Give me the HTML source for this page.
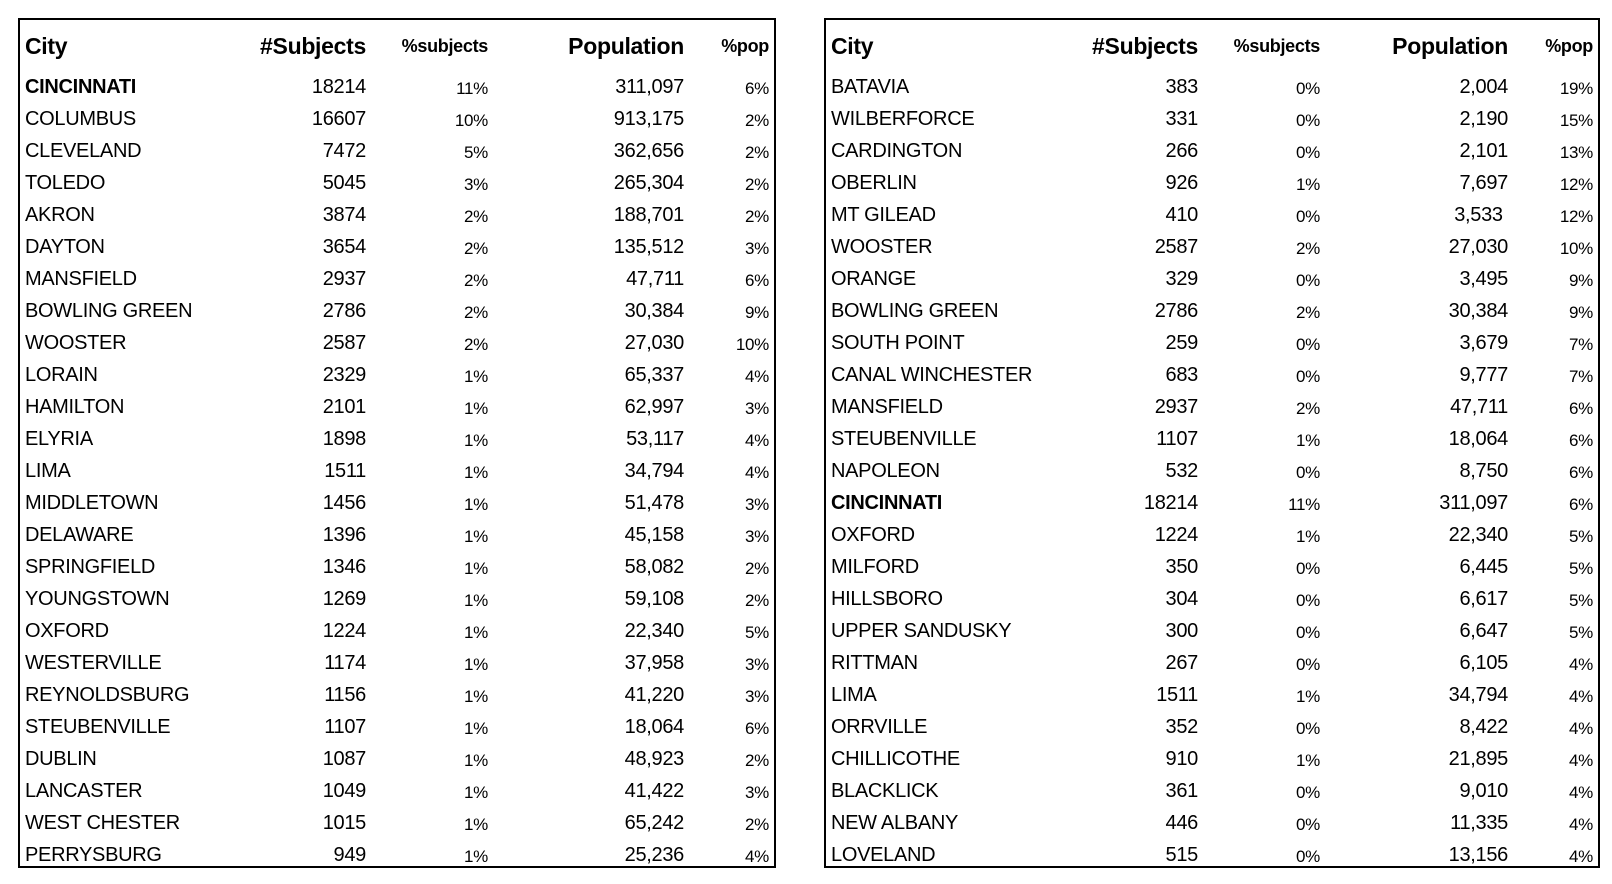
<!DOCTYPE html>
<html><head><meta charset="utf-8"><style>
body{margin:0;width:1612px;height:884px;background:#fff;position:relative;overflow:hidden;font-family:"Liberation Sans Narrow","Liberation Sans",sans-serif;color:#000}
.box{position:absolute;top:18px;height:850px;border:2px solid #000;box-sizing:border-box}
table{position:absolute;top:21.5px;border-collapse:collapse;table-layout:fixed}
td,th{padding:0;white-space:nowrap;font-size:20px;font-weight:normal;letter-spacing:-0.3px}
tr{height:32px}
tr.h{height:50px}
th{font-weight:bold;font-size:23px}
th.s{font-size:18px}
td:first-child,th:first-child{text-align:left}
td,th{text-align:right}
td.p{font-size:17px;padding-top:3px}
.b{font-weight:bold}
</style></head><body>
<div class="box" style="left:18px;width:758px"></div>
<div class="box" style="left:824px;width:776px"></div>
<table style="left:25px;width:744px">
<colgroup><col style="width:200px"><col style="width:141px"><col style="width:122px"><col style="width:196px"><col style="width:85px"></colgroup>
<tr class="h"><th>City</th><th>#Subjects</th><th class="s">%subjects</th><th>Population</th><th class="s">%pop</th></tr>
<tr><td class="b">CINCINNATI</td><td>18214</td><td class="p">11%</td><td>311,097</td><td class="p">6%</td></tr>
<tr><td>COLUMBUS</td><td>16607</td><td class="p">10%</td><td>913,175</td><td class="p">2%</td></tr>
<tr><td>CLEVELAND</td><td>7472</td><td class="p">5%</td><td>362,656</td><td class="p">2%</td></tr>
<tr><td>TOLEDO</td><td>5045</td><td class="p">3%</td><td>265,304</td><td class="p">2%</td></tr>
<tr><td>AKRON</td><td>3874</td><td class="p">2%</td><td>188,701</td><td class="p">2%</td></tr>
<tr><td>DAYTON</td><td>3654</td><td class="p">2%</td><td>135,512</td><td class="p">3%</td></tr>
<tr><td>MANSFIELD</td><td>2937</td><td class="p">2%</td><td>47,711</td><td class="p">6%</td></tr>
<tr><td>BOWLING GREEN</td><td>2786</td><td class="p">2%</td><td>30,384</td><td class="p">9%</td></tr>
<tr><td>WOOSTER</td><td>2587</td><td class="p">2%</td><td>27,030</td><td class="p">10%</td></tr>
<tr><td>LORAIN</td><td>2329</td><td class="p">1%</td><td>65,337</td><td class="p">4%</td></tr>
<tr><td>HAMILTON</td><td>2101</td><td class="p">1%</td><td>62,997</td><td class="p">3%</td></tr>
<tr><td>ELYRIA</td><td>1898</td><td class="p">1%</td><td>53,117</td><td class="p">4%</td></tr>
<tr><td>LIMA</td><td>1511</td><td class="p">1%</td><td>34,794</td><td class="p">4%</td></tr>
<tr><td>MIDDLETOWN</td><td>1456</td><td class="p">1%</td><td>51,478</td><td class="p">3%</td></tr>
<tr><td>DELAWARE</td><td>1396</td><td class="p">1%</td><td>45,158</td><td class="p">3%</td></tr>
<tr><td>SPRINGFIELD</td><td>1346</td><td class="p">1%</td><td>58,082</td><td class="p">2%</td></tr>
<tr><td>YOUNGSTOWN</td><td>1269</td><td class="p">1%</td><td>59,108</td><td class="p">2%</td></tr>
<tr><td>OXFORD</td><td>1224</td><td class="p">1%</td><td>22,340</td><td class="p">5%</td></tr>
<tr><td>WESTERVILLE</td><td>1174</td><td class="p">1%</td><td>37,958</td><td class="p">3%</td></tr>
<tr><td>REYNOLDSBURG</td><td>1156</td><td class="p">1%</td><td>41,220</td><td class="p">3%</td></tr>
<tr><td>STEUBENVILLE</td><td>1107</td><td class="p">1%</td><td>18,064</td><td class="p">6%</td></tr>
<tr><td>DUBLIN</td><td>1087</td><td class="p">1%</td><td>48,923</td><td class="p">2%</td></tr>
<tr><td>LANCASTER</td><td>1049</td><td class="p">1%</td><td>41,422</td><td class="p">3%</td></tr>
<tr><td>WEST CHESTER</td><td>1015</td><td class="p">1%</td><td>65,242</td><td class="p">2%</td></tr>
<tr><td>PERRYSBURG</td><td>949</td><td class="p">1%</td><td>25,236</td><td class="p">4%</td></tr>
</table>
<table style="left:831px;width:762px">
<colgroup><col style="width:200px"><col style="width:167px"><col style="width:122px"><col style="width:188px"><col style="width:85px"></colgroup>
<tr class="h"><th>City</th><th>#Subjects</th><th class="s">%subjects</th><th>Population</th><th class="s">%pop</th></tr>
<tr><td>BATAVIA</td><td>383</td><td class="p">0%</td><td>2,004</td><td class="p">19%</td></tr>
<tr><td>WILBERFORCE</td><td>331</td><td class="p">0%</td><td>2,190</td><td class="p">15%</td></tr>
<tr><td>CARDINGTON</td><td>266</td><td class="p">0%</td><td>2,101</td><td class="p">13%</td></tr>
<tr><td>OBERLIN</td><td>926</td><td class="p">1%</td><td>7,697</td><td class="p">12%</td></tr>
<tr><td>MT GILEAD</td><td>410</td><td class="p">0%</td><td>3,533&nbsp;</td><td class="p">12%</td></tr>
<tr><td>WOOSTER</td><td>2587</td><td class="p">2%</td><td>27,030</td><td class="p">10%</td></tr>
<tr><td>ORANGE</td><td>329</td><td class="p">0%</td><td>3,495</td><td class="p">9%</td></tr>
<tr><td>BOWLING GREEN</td><td>2786</td><td class="p">2%</td><td>30,384</td><td class="p">9%</td></tr>
<tr><td>SOUTH POINT</td><td>259</td><td class="p">0%</td><td>3,679</td><td class="p">7%</td></tr>
<tr><td>CANAL WINCHESTER</td><td>683</td><td class="p">0%</td><td>9,777</td><td class="p">7%</td></tr>
<tr><td>MANSFIELD</td><td>2937</td><td class="p">2%</td><td>47,711</td><td class="p">6%</td></tr>
<tr><td>STEUBENVILLE</td><td>1107</td><td class="p">1%</td><td>18,064</td><td class="p">6%</td></tr>
<tr><td>NAPOLEON</td><td>532</td><td class="p">0%</td><td>8,750</td><td class="p">6%</td></tr>
<tr><td class="b">CINCINNATI</td><td>18214</td><td class="p">11%</td><td>311,097</td><td class="p">6%</td></tr>
<tr><td>OXFORD</td><td>1224</td><td class="p">1%</td><td>22,340</td><td class="p">5%</td></tr>
<tr><td>MILFORD</td><td>350</td><td class="p">0%</td><td>6,445</td><td class="p">5%</td></tr>
<tr><td>HILLSBORO</td><td>304</td><td class="p">0%</td><td>6,617</td><td class="p">5%</td></tr>
<tr><td>UPPER SANDUSKY</td><td>300</td><td class="p">0%</td><td>6,647</td><td class="p">5%</td></tr>
<tr><td>RITTMAN</td><td>267</td><td class="p">0%</td><td>6,105</td><td class="p">4%</td></tr>
<tr><td>LIMA</td><td>1511</td><td class="p">1%</td><td>34,794</td><td class="p">4%</td></tr>
<tr><td>ORRVILLE</td><td>352</td><td class="p">0%</td><td>8,422</td><td class="p">4%</td></tr>
<tr><td>CHILLICOTHE</td><td>910</td><td class="p">1%</td><td>21,895</td><td class="p">4%</td></tr>
<tr><td>BLACKLICK</td><td>361</td><td class="p">0%</td><td>9,010</td><td class="p">4%</td></tr>
<tr><td>NEW ALBANY</td><td>446</td><td class="p">0%</td><td>11,335</td><td class="p">4%</td></tr>
<tr><td>LOVELAND</td><td>515</td><td class="p">0%</td><td>13,156</td><td class="p">4%</td></tr>
</table>
</body></html>
